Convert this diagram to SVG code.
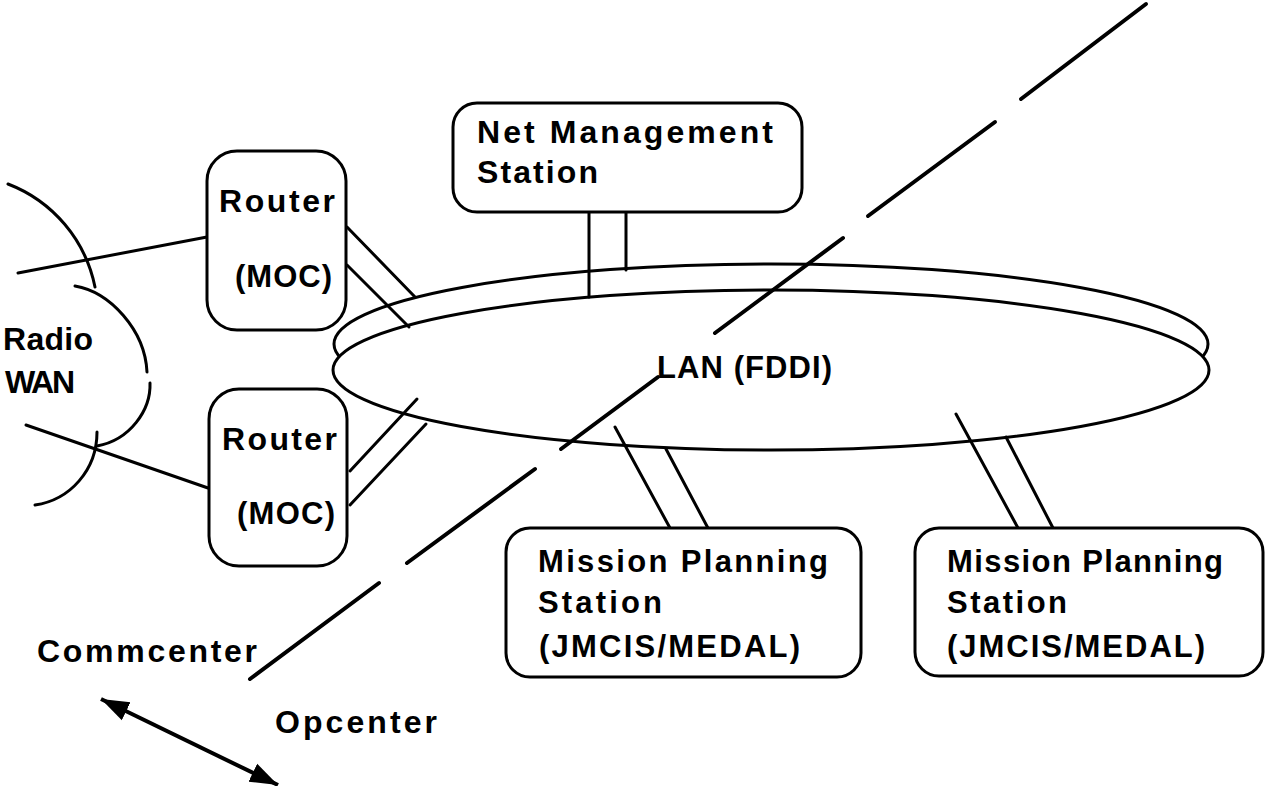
<svg xmlns="http://www.w3.org/2000/svg" width="1266" height="786" viewBox="0 0 1266 786">
<style>
.box{fill:#fff;stroke:#000;stroke-width:3}
.ln{fill:none;stroke:#000;stroke-width:3;stroke-linecap:round}
.dash{fill:none;stroke:#000;stroke-width:4;stroke-linecap:round}
.b{font-family:"Liberation Sans Narrow","Liberation Sans",Arial,sans-serif;font-weight:bold;font-size:32px;fill:#000}
.r{font-family:"Liberation Sans Narrow","Liberation Sans",Arial,sans-serif;font-weight:bold;font-size:31px;fill:#000}
</style>
<defs>
<marker id="ah" markerUnits="userSpaceOnUse" markerWidth="30" markerHeight="24" refX="28" refY="12" orient="auto-start-reverse">
<path d="M0,2 L28,12 L0,22 Z" fill="#000"/>
</marker>
</defs>
<rect width="1266" height="786" fill="#fff"/>

<g id="radio-wan">
<path class="ln" d="M8,184 A140,140 0 0 1 95,287"/>
<path class="ln" d="M75,286 C110,292 145,330 147,372"/>
<path class="ln" d="M150,383 C151,410 130,440 97,446"/>
<path class="ln" d="M97,432 C97,470 70,500 35,505"/>
<text class="b" x="3" y="350" textLength="90" lengthAdjust="spacing">Radio</text>
<text class="b" x="5" y="393" textLength="70" lengthAdjust="spacing">WAN</text>
</g>

<g id="lan">
<ellipse class="box" cx="771" cy="344" rx="437" ry="80"/>
<ellipse class="box" cx="771" cy="370" rx="438" ry="80"/>
<text class="r" x="657" y="378" textLength="175" lengthAdjust="spacing">LAN (FDDI)</text>
</g>

<g id="connectors">
<line class="ln" x1="18" y1="273" x2="207" y2="237"/>
<line class="ln" x1="26" y1="425" x2="208" y2="488"/>
<line class="ln" x1="347" y1="227" x2="415" y2="297"/>
<line class="ln" x1="347" y1="265" x2="409" y2="327"/>
<line class="ln" x1="350" y1="471" x2="417" y2="399"/>
<line class="ln" x1="350" y1="505" x2="426" y2="424"/>
<line class="ln" x1="589" y1="212" x2="589" y2="297"/>
<line class="ln" x1="626" y1="212" x2="626" y2="270"/>
<line class="ln" x1="615" y1="427" x2="670" y2="528"/>
<line class="ln" x1="666" y1="449" x2="709" y2="530"/>
<line class="ln" x1="956" y1="414" x2="1018" y2="528"/>
<line class="ln" x1="1006" y1="437" x2="1053" y2="528"/>
</g>

<g id="router1">
<rect class="box" x="207" y="151" width="139" height="179" rx="30"/>
<text class="b" x="219" y="212" textLength="116" lengthAdjust="spacing">Router</text>
<text class="r" x="235" y="287" textLength="97" lengthAdjust="spacing">(MOC)</text>
</g>

<g id="router2">
<rect class="box" x="209" y="389" width="138" height="177" rx="30"/>
<text class="b" x="222" y="450" textLength="115" lengthAdjust="spacing">Router</text>
<text class="r" x="237" y="524" textLength="98" lengthAdjust="spacing">(MOC)</text>
</g>

<g id="net-management">
<rect class="box" x="453" y="103" width="349" height="109" rx="24"/>
<text class="b" x="477" y="143" textLength="296" lengthAdjust="spacing">Net Management</text>
<text class="b" x="477" y="183" textLength="121" lengthAdjust="spacing">Station</text>
</g>

<g id="mission1">
<rect class="box" x="506" y="528" width="355" height="149" rx="24"/>
<text class="r" x="538" y="572" textLength="290" lengthAdjust="spacing">Mission Planning</text>
<text class="r" x="538" y="613" textLength="124" lengthAdjust="spacing">Station</text>
<text class="r" x="539" y="657" textLength="261" lengthAdjust="spacing">(JMCIS/MEDAL)</text>
</g>

<g id="mission2">
<rect class="box" x="915" y="528" width="348" height="148" rx="24"/>
<text class="r" x="947" y="572" textLength="276" lengthAdjust="spacing">Mission Planning</text>
<text class="r" x="947" y="613" textLength="120" lengthAdjust="spacing">Station</text>
<text class="r" x="947" y="657" textLength="258" lengthAdjust="spacing">(JMCIS/MEDAL)</text>
</g>

<g id="boundary">
<line class="dash" x1="1146" y1="4" x2="1021" y2="99"/>
<line class="dash" x1="995" y1="122" x2="868" y2="216"/>
<line class="dash" x1="843" y1="238" x2="715" y2="333"/>
<line class="dash" x1="658" y1="377" x2="561" y2="449"/>
<line class="dash" x1="535" y1="469" x2="407" y2="563"/>
<line class="dash" x1="379" y1="583" x2="250" y2="679"/>
</g>

<g id="legend">
<text class="b" x="37" y="662" textLength="220" lengthAdjust="spacing">Commcenter</text>
<text class="b" x="275" y="733" textLength="162" lengthAdjust="spacing">Opcenter</text>
<line x1="101" y1="699" x2="278" y2="785" stroke="#000" stroke-width="4" marker-start="url(#ah)" marker-end="url(#ah)"/>
</g>
</svg>
